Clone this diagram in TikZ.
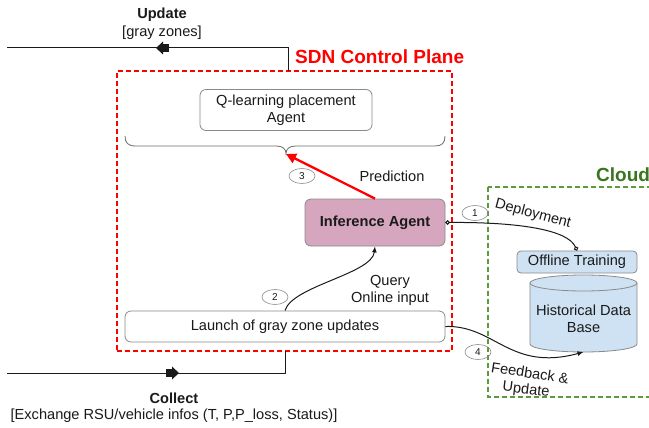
\documentclass[tikz,border=0pt]{standalone}
\usepackage{fontspec}
\setmainfont{Liberation Sans}
\usetikzlibrary{arrows.meta,shapes.geometric,decorations.markings}
\definecolor{sdnred}{HTML}{FF0000}
\definecolor{cloudgreen}{HTML}{38761D}
\definecolor{cloudline}{HTML}{5B9A3C}
\definecolor{infpink}{HTML}{D5A6BD}
\definecolor{offblue}{HTML}{CFE2F3}
\definecolor{boxgray}{HTML}{8A8A8A}
\definecolor{txtcol}{HTML}{1A1A1A}
\begin{document}
\begin{tikzpicture}[x=1pt,y=-1pt,
  txt/.style={font=\fontsize{14.6}{17}\selectfont, text=txtcol, align=center},
  btxt/.style={font=\fontsize{14.6}{17}\selectfont\bfseries, text=txtcol, align=center},
  rbox/.style={draw=boxgray, rounded corners=6pt, line width=0.8pt, inner sep=0pt, txt},
  num/.style={draw=boxgray, ellipse, line width=0.6pt, minimum width=26pt, minimum height=15pt, inner sep=0pt, font=\fontsize{10}{12}\selectfont, text=txtcol},
  conn/.style={line width=1pt, txtcol},
  cyl/.style={draw=boxgray, line width=0.8pt, fill=offblue},
  bigarrow/.style={postaction=decorate, decoration={markings, mark=at position #1 with {\fill[txtcol] (-6pt,-4pt) rectangle (0.5pt,4pt); \fill[txtcol] (0pt,-6.5pt) -- (7pt,0pt) -- (0pt,6.5pt) -- cycle;}}}
]
\useasboundingbox (0,0) rectangle (649,428);
\clip (0,0) rectangle (649,428);
\fill[white] (0,0) rectangle (649,428);

% containers
\node[draw=sdnred, dash pattern=on 5pt off 3pt, line width=1.1pt, minimum width=335pt, minimum height=280pt, inner sep=0pt] (sdn) at (284.5,211) {};
\draw[cloudline, dash pattern=on 5pt off 3pt, line width=1.1pt] (488,187) rectangle (700,397);
\node[anchor=west, font=\fontsize{19}{22}\selectfont\bfseries, text=sdnred, inner sep=0pt] (sdnlabel) at (295,57) {SDN Control Plane};
\node[anchor=west, font=\fontsize{19}{22}\selectfont\bfseries, text=cloudgreen, inner sep=0pt] (cloudlabel) at (596,175) {Cloud};

% boxes
\node[rbox, minimum width=172pt, minimum height=41pt] (qagent) at (286,110) {Q-learning placement\\Agent};
\node[rbox, fill=infpink, minimum width=140pt, minimum height=47pt, font=\fontsize{14.6}{17}\selectfont\bfseries] (inf) at (375,222.5) {Inference Agent};
\node[rbox, minimum width=320pt, minimum height=31pt] (launch) at (285,326.5) {Launch of gray zone updates};
\node[rbox, fill=offblue, rounded corners=4pt, minimum width=120pt, minimum height=22pt] (offline) at (577,262) {Offline Training};

% database cylinder
\draw[cyl] (530,283) -- (530,344) arc[start angle=180, end angle=360, x radius=53.5pt, y radius=8pt] -- (637,283) arc[start angle=0, end angle=180, x radius=53.5pt, y radius=8pt] -- cycle;
\draw[cyl, fill=none] (530,283) arc[start angle=180, end angle=360, x radius=53.5pt, y radius=8pt];
\coordinate (histBottom) at (583.5,352);
\node[txt] (hist) at (583.5,319) {Historical Data\\Base};

% brace
\coordinate (braceTip) at (286,154);
\draw[boxgray!80!black, line width=0.8pt] (125,136) .. controls (125,143) and (128,146) .. (136,146) -- (276,146) .. controls (283,146) and (286,149) .. (braceTip) .. controls (286,149) and (289,146) .. (296,146) -- (435,146) .. controls (442,146) and (445,143) .. (445,136);

% number ellipses
\node[num] (n1) at (475,213) {1};
\node[num] (n2) at (275,297) {2};
\node[num] (n3) at (302,176) {3};
\node[num] (n4) at (478,352) {4};

% labels
\node[btxt] (updT) at (162,15) {Update};
\node[txt] (updS) at (162,33) {[gray zones]};
\node[btxt] (colT) at (174,398) {Collect};
\node[txt] (colS) at (174,416) {[Exchange RSU/vehicle infos (T, P,P\_loss, Status)]};
\node[txt] (pred) at (392,176) {Prediction};
\node[txt] (query) at (390,290) {Query\\Online input};
\node[txt, rotate=-15, inner sep=0pt] (deploy) at (533,214) {Deployment};
\node[txt, rotate=-9, inner sep=0pt] (feed) at (530,373) {Feedback \&};
\node[txt, rotate=-7, inner sep=0pt] (feed2) at (526,390) {Update};

% top / bottom flows
\coordinate (updFrom) at (288,71);
\coordinate (updEnd) at (7,48);
\draw[conn, bigarrow=148pt] (updFrom) |- (updEnd);
\coordinate (colStart) at (7,373);
\coordinate (colTo) at (285,351);
\draw[conn, bigarrow=165pt] (colStart) -| (colTo);

% connectors
\draw[sdnred, line width=2.3pt, -{Triangle[length=10pt,width=10pt]}] (inf.north) -- (braceTip);
\draw[conn, {Circle[open,length=4.5pt]}-{Circle[open,length=4.5pt]}] (inf.east) .. controls (520,222) and (568,230) .. (offline.north);
\draw[conn, -{Latex[length=6pt,width=5pt]}] (launch.north) .. controls (292,286) and (372,274) .. (inf.south);
\draw[conn, -{Latex[length=6pt,width=5pt]}] (launch.east) .. controls (495,325) and (510,372) .. (histBottom);
\end{tikzpicture}
\end{document}
